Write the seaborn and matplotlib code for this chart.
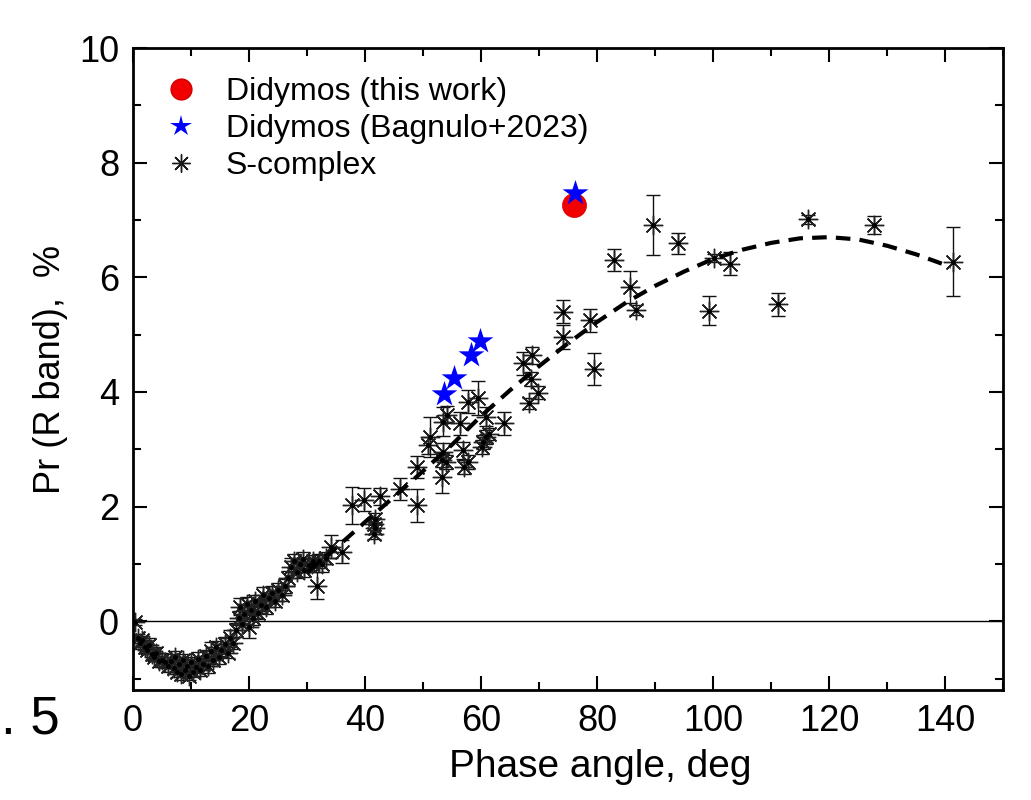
import numpy as np
import pandas as pd
import seaborn as sns
import matplotlib.pyplot as plt
from matplotlib.ticker import MultipleLocator

# S-complex asteroids: phase angle (deg), Pr (%), error (%)
s_phase = [0.3, 0.8, 1.2, 1.6, 2.0, 2.4, 2.8, 3.2, 3.6, 4.0, 4.4, 5.0, 5.5, 6.0, 6.5,
           7.0, 7.3, 7.6, 8.0, 8.3, 8.6, 9.0, 9.3, 9.6, 10.0, 10.3, 10.8, 11.2, 11.6, 12.0,
           12.5, 13.0, 13.4, 13.8, 14.3, 14.8, 15.2, 15.8, 16.3, 16.8, 17.3, 17.8, 18.2, 18.5,
           18.8, 19.2, 19.6, 20.0, 20.3, 20.7, 21.0, 21.5, 22.0, 22.4, 23.0, 23.5, 24.0, 24.5,
           25.0, 25.6, 26.2, 26.8, 27.2, 27.8, 28.3, 28.8, 29.3, 29.5, 30.3, 30.8, 31.0, 31.7,
           32.0, 32.5, 33.3, 34.1, 36.0,
           37.7, 39.9, 42.6, 41.7, 41.6, 41.7, 41.6, 46.0, 48.9, 49.0,
           51.2, 50.9, 53.5, 54.1, 56.3, 57.8, 59.4, 60.9, 64.0, 53.5, 53.2, 54.0, 53.2,
           56.8, 57.8, 57.1, 60.3, 60.9, 61.3, 60.1,
           67.3, 68.7, 68.6, 69.9, 68.3,
           74.1, 74.2, 78.7, 79.4, 83.0, 85.6, 86.7, 89.6, 93.9, 99.3, 100.2, 102.9,
           111.1, 116.3, 127.8, 141.4]
s_pr = [-0.02, -0.30, -0.38, -0.33, -0.45, -0.50, -0.42, -0.58, -0.62, -0.55, -0.70, -0.68,
        -0.72, -0.78, -0.70, -0.82, -0.62, -0.88, -0.75, -0.92, -0.68, -0.85, -0.78, -0.95,
        -0.72, -0.88, -0.80, -0.66, -0.85, -0.74, -0.60, -0.78, -0.52, -0.68, -0.45, -0.62,
        -0.50, -0.40, -0.55, -0.30, -0.38, -0.15, 0.05, 0.25, -0.05, 0.12, 0.30, -0.10, 0.20,
        0.05, 0.35, 0.15, 0.28, 0.45, 0.25, 0.40, 0.50, 0.35, 0.55, 0.45, 0.62, 0.75, 0.95,
        1.05, 0.85, 1.00, 1.08, 0.90, 0.98, 1.00, 1.05, 0.62, 1.05, 1.00, 1.10, 1.30, 1.21,
        2.02, 2.12, 2.18, 1.79, 1.70, 1.62, 1.53, 2.30, 2.02, 2.69,
        3.22, 3.07, 3.48, 3.60, 3.45, 3.83, 3.89, 3.57, 3.45, 2.96, 2.81, 2.78, 2.52,
        2.98, 2.78, 2.69, 3.13, 3.22, 3.27, 3.04,
        4.50, 4.64, 4.22, 3.99, 3.80,
        5.40, 4.96, 5.25, 4.40, 6.30, 5.83, 5.43, 6.91, 6.59, 5.42, 6.33, 6.24,
        5.53, 7.01, 6.91, 6.27]
s_err = [0.05, 0.08, 0.10, 0.08, 0.10, 0.08, 0.12, 0.10, 0.08, 0.10, 0.10, 0.12, 0.10, 0.10,
         0.12, 0.10, 0.10, 0.10, 0.12, 0.10, 0.10, 0.10, 0.12, 0.08, 0.10, 0.10, 0.10, 0.12,
         0.10, 0.10, 0.10, 0.12, 0.15, 0.10, 0.10, 0.12, 0.10, 0.12, 0.10, 0.15, 0.10, 0.12,
         0.12, 0.15, 0.10, 0.12, 0.12, 0.20, 0.10, 0.12, 0.10, 0.12, 0.10, 0.15, 0.12, 0.10,
         0.12, 0.10, 0.12, 0.10, 0.12, 0.13, 0.15, 0.12, 0.10, 0.10, 0.12, 0.12, 0.12, 0.10,
         0.10, 0.24, 0.12, 0.15, 0.10, 0.20, 0.20,
         0.32, 0.20, 0.15, 0.10, 0.10, 0.10, 0.10, 0.19, 0.29, 0.20,
         0.35, 0.15, 0.25, 0.15, 0.20, 0.20, 0.30, 0.17, 0.20, 0.15, 0.12, 0.12, 0.29,
         0.15, 0.12, 0.12, 0.12, 0.12, 0.10, 0.12,
         0.20, 0.15, 0.12, 0.12, 0.10,
         0.20, 0.21, 0.20, 0.28, 0.19, 0.28, 0.08, 0.52, 0.19, 0.25, 0.07, 0.20,
         0.20, 0.08, 0.16, 0.60]

# Didymos
bag_phase = [53.6, 55.4, 58.3, 59.8, 76.2]
bag_pr = [3.97, 4.25, 4.64, 4.88, 7.47]
this_phase = [76.1]
this_pr = [7.26]

# phase curve fit
fit_phase = [30, 35, 40, 45, 50, 55, 60, 65, 70, 75, 80, 85, 90, 95, 100, 105, 110, 115,
             120, 125, 130, 135, 141]
fit_pr = [0.85, 1.28, 1.73, 2.17, 2.62, 3.08, 3.58, 4.03, 4.45, 4.85, 5.22, 5.56, 5.85,
          6.10, 6.32, 6.48, 6.60, 6.68, 6.70, 6.66, 6.55, 6.40, 6.18]

sns.set_theme(style='ticks')
plt.rcParams['font.family'] = ['Liberation Sans', 'DejaVu Sans']
plt.rcParams['text.color'] = 'black'
plt.rcParams['axes.labelcolor'] = 'black'

fig = plt.figure(figsize=(10.31, 8), dpi=100)
ax = fig.add_axes([0.129, 0.1375, 0.844, 0.8025])

ax.axhline(0, color='black', lw=1, zorder=1)

fit_df = pd.DataFrame({'phase': fit_phase, 'pr': fit_pr})
sns.lineplot(data=fit_df, x='phase', y='pr', ax=ax, color='black', lw=3,
             linestyle=(0, (3.5, 2.2)), zorder=3)

ax.errorbar(s_phase, s_pr, yerr=s_err, fmt='none', ecolor='#111111', elinewidth=1,
            capsize=4.8, capthick=1, zorder=2)
ast = (8, 2, 0)
ax.plot(s_phase, s_pr, linestyle='none', marker=ast, ms=14, mew=1, color='#222222',
        zorder=2)
ax.plot(s_phase, s_pr, linestyle='none', marker='o', ms=2.5, color='black', zorder=2)

this_df = pd.DataFrame({'phase': this_phase, 'pr': this_pr})
bag_df = pd.DataFrame({'phase': bag_phase, 'pr': bag_pr})
sns.scatterplot(data=this_df, x='phase', y='pr', ax=ax, color='#f00000', s=300,
                edgecolor='#d00000', linewidth=0.5, zorder=4)
sns.scatterplot(data=bag_df, x='phase', y='pr', ax=ax, color='#0000ff', marker='*',
                s=380, edgecolor='#0000ff', linewidth=0, zorder=5)

# legend handles
h1 = ax.plot([], [], linestyle='none', marker='o', ms=15, color='#f00000',
             mec='#d00000')[0]
h2 = ax.plot([], [], linestyle='none', marker='*', ms=16, color='#0000ff', mew=0)[0]
h3 = ax.plot([], [], linestyle='none', marker=ast, ms=13, mew=1, color='#1a1a1a')[0]
ax.legend([h1, h2, h3], ['Didymos (this work)', 'Didymos (Bagnulo+2023)', 'S-complex'],
          loc='upper left', bbox_to_anchor=(0.0, 0.99), frameon=False, fontsize=23,
          handletextpad=0.6, labelspacing=0.22, borderaxespad=0.3, handlelength=1.6)

ax.set_xlim(0, 150)
ax.set_ylim(-1.2, 10)
ax.xaxis.set_major_locator(MultipleLocator(20))
ax.xaxis.set_minor_locator(MultipleLocator(10))
ax.yaxis.set_major_locator(MultipleLocator(2))
ax.yaxis.set_minor_locator(MultipleLocator(1))
ax.tick_params(which='both', direction='in', top=True, right=True, width=1.5,
               labelsize=26, colors='black', pad=10)
ax.tick_params(which='major', length=10)
ax.tick_params(which='minor', length=6)
for sp in ax.spines.values():
    sp.set_linewidth(2)
    sp.set_color('black')

ax.set_xlabel('Phase angle, deg', fontsize=28)
ax.xaxis.set_label_coords(0.537, -0.092)
ax.set_ylabel('Pr (R band),  %', fontsize=26, labelpad=8)

fig.text(0.001, 0.1, '. 5', fontsize=38, ha='left', va='center')

fig.savefig('out.png', dpi=100)
